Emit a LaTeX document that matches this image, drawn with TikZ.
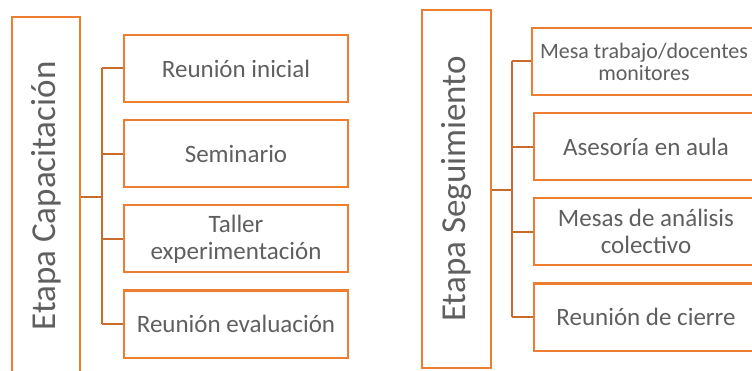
\documentclass[tikz,border=0pt]{standalone}
\usepackage{fontspec}
\setmainfont{Carlito}
\usepackage{graphicx}
\usetikzlibrary{positioning}
\definecolor{naranja}{HTML}{ED7D31}
\definecolor{naranjaosc}{HTML}{C96B2C}
\definecolor{gristxt}{HTML}{5F5F5F}

\begin{document}
\begin{tikzpicture}[x=1pt,y=-1pt,
    node distance=16pt,
    etapa/.style={draw=naranja, line width=2.2pt, minimum width=68pt, minimum height=358pt, inner sep=0pt, text=gristxt, font=\fontsize{35}{40}\selectfont},
    paso/.style={draw=naranja, line width=2.2pt, minimum width=224pt, minimum height=67pt, inner sep=0pt, align=center, text=gristxt, font=\fontsize{25}{27}\selectfont},
    rama/.style={draw=naranjaosc, line width=2pt}]
  \useasboundingbox (0,0) rectangle (752,371);
  \clip (0,0) rectangle (752,371);

  % etapa de capacitacion
  \node (cap) [etapa] at (46,196) {\rotatebox{90}{Etapa Capacitación}};
  \node (ini) [paso] at (236,68.5) {Reunión inicial};
  \node (sem) [paso, below=of ini] {Seminario};
  \node (tal) [paso, below=of sem] {Taller\\experimentación};
  \node (eva) [paso, below=of tal] {Reunión evaluación};

  \coordinate (capT) at (102,197);
  \draw[rama] (cap.east |- capT) -- (capT);
  \draw[rama] (ini.west -| capT) -- (eva.west -| capT);
  \foreach \p in {ini,sem,tal,eva}
    \draw[rama] (\p.west) -- (\p.west -| capT);

  % etapa de seguimiento
  \node (seg) [etapa, minimum width=69pt] at (456.5,189) {\rotatebox{90}{Etapa Seguimiento}};
  \node (mesa) [paso, font=\fontsize{22}{22}\selectfont] at (644,61.5) {Mesa trabajo/docentes\\monitores};
  \node (ase) [paso, below=of mesa, xshift=2pt] {Asesoría en aula};
  \node (mes) [paso, below=of ase] {Mesas de análisis\\colectivo};
  \node (cie) [paso, below=of mes] {Reunión de cierre};

  \coordinate (segT) at (512,190);
  \draw[rama] (seg.east |- segT) -- (segT);
  \draw[rama] (mesa.west -| segT) -- (cie.west -| segT);
  \foreach \p in {mesa,ase,mes,cie}
    \draw[rama] (\p.west) -- (\p.west -| segT);
\end{tikzpicture}
\end{document}
